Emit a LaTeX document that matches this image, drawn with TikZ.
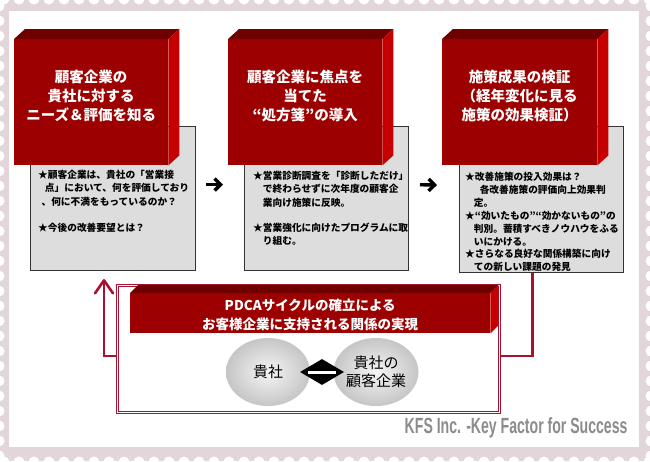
\documentclass[tikz,border=0pt]{standalone}
\usepackage{fontspec}
\newfontfamily\jp{Noto Sans CJK JP}
\newfontfamily\kfs[FakeStretch=0.64]{Liberation Sans}
\usetikzlibrary{arrows.meta, shapes.geometric, calc}

\definecolor{stepred}{RGB}{156,0,0}
\definecolor{steptop}{RGB}{110,0,0}
\definecolor{stepside}{RGB}{198,0,0}
\definecolor{memogray}{RGB}{221,221,221}
\definecolor{cyclered}{RGB}{168,18,48}
\definecolor{stamp}{RGB}{226,214,218}

\begin{document}
\begin{tikzpicture}[x=1pt, y=-1pt, font=\jp]%

    \tikzstyle{face} = [ rectangle, fill = stepred, anchor = north west, inner sep = 0pt, minimum width = 154pt, minimum height = 126pt]
    \tikzstyle{lid} = [ fill = steptop]
    \tikzstyle{flank} = [ fill = stepside]
    \tikzstyle{title} = [ text = white, align = center, font = \jp\bfseries\fontsize{14.5}{19}\selectfont]
    \tikzstyle{memo} = [ rectangle, draw = black!80, line width = 1pt, fill = memogray, anchor = north west, inner sep = 0pt, minimum width = 164pt, minimum height = 144pt]
    \tikzstyle{memotext} = [ anchor = north west, inner sep = 0pt, align = left, font = \jp\bfseries\fontsize{9.7}{13.4}\selectfont]
    \tikzstyle{flow} = [ draw, line width = 3.4pt, -{Straight Barb[length=6pt, width=12pt]}]
    \tikzstyle{cycleline} = [ draw = cyclered, line width = 2.6pt]
    \tikzstyle{frame} = [ rectangle, anchor = north west, draw = cyclered, double = white, double distance = 1pt, line width = 1.2pt, inner sep = 0pt, minimum width = 382pt, minimum height = 127pt]
    \tikzstyle{disc} = [ ellipse, inner sep = 0pt, minimum width = 84pt, minimum height = 68pt, inner color = gray!8, outer color = gray!45, align = center, font = \jp\fontsize{15}{18}\selectfont]
    %
    \useasboundingbox (0,0) rectangle (650,461);

    %% Stamp border
    \fill[stamp] (0,0) rectangle (650,461);
    \foreach \x in {4,19,...,650} {
        \fill[white] (\x,-1) circle (5.5);
        \fill[white] (\x,462) circle (5.5);
    }
    \foreach \y in {6,21,...,461} {
        \fill[white] (-1,\y) circle (5.5);
        \fill[white] (651,\y) circle (5.5);
    }
    \fill[white] (9,11) rectangle (639,447);

    %% Notes behind the steps
    \node [memo, minimum width = 165pt] (memo1) at (30,126) {};
    \node [memo] (memo2) at (244,126) {};
    \node [memo, minimum height = 146pt] (memo3) at (459,126) {};

    \node [memotext] (m1) at ([shift={(8,44)}]memo1.north west) {★顧客企業は、貴社の「営業接\\
        \hspace*{0.7em}点」において、何を評価しており\\
        \hspace*{0.35em}、何に不満をもっているのか？\\[13pt]
        ★今後の改善要望とは？};
    \node [memotext] (m2) at ([shift={(9,45)}]memo2.north west) {★営業診断調査を「診断しただけ」\\
        \hspace*{1em}で終わらせずに次年度の顧客企\\
        \hspace*{1em}業向け施策に反映。\\[11.5pt]
        ★営業強化に向けたプログラムに取\\
        \hspace*{1em}り組む。};
    \node [memotext, font = \jp\bfseries\fontsize{9.7}{12.9}\selectfont] (m3) at ([shift={(6,46)}]memo3.north west) {★改善施策の投入効果は？\\
        \hspace*{1.5em}各改善施策の評価向上効果判\\
        \hspace*{0.9em}定。\\
        ★“効いたもの”“効かないもの”の\\
        \hspace*{0.9em}判別。蓄積すべきノウハウをふる\\
        \hspace*{0.9em}いにかける。\\
        ★さらなる良好な関係構築に向け\\
        \hspace*{0.9em}ての新しい課題の発見};

    %% Steps
    \node [face] (f1) at (14,39) {};
    \node [face] (f2) at (228,39) {};
    \node [face, minimum width = 155pt] (f3) at (442,39) {};

    \fill[lid] (f1.north west) -- ++(11,-10) -- ([shift={(11,-10)}]f1.north east) -- (f1.north east) -- cycle;
    \fill[flank] (f1.north east) -- ++(11,-10) -- ([shift={(11,-10)}]f1.south east) -- (f1.south east) -- cycle;
    \fill[lid] (f2.north west) -- ++(11,-10) -- ([shift={(11,-10)}]f2.north east) -- (f2.north east) -- cycle;
    \fill[flank] (f2.north east) -- ++(11,-10) -- ([shift={(11,-10)}]f2.south east) -- (f2.south east) -- cycle;
    \fill[lid] (f3.north west) -- ++(11,-10) -- ([shift={(11,-10)}]f3.north east) -- (f3.north east) -- cycle;
    \fill[flank] (f3.north east) -- ++(11,-10) -- ([shift={(11,-10)}]f3.south east) -- (f3.south east) -- cycle;

    \node [title] (t1) at ([yshift=6pt]f1.center) {顧客企業の\\貴社に対する\\ニーズ＆評価を知る};
    \node [title] (t2) at ([yshift=6pt]f2.center) {顧客企業に焦点を\\当てた\\“処方箋”の導入};
    \node [title] (t3) at ([yshift=6pt]f3.center) {施策成果の検証\\（経年変化に見る\\施策の効果検証）};

    \draw[flow, shorten < = 10pt, shorten > = 21pt] ([yshift=14pt]memo1.east) -- ([yshift=14pt]memo2.west);
    \draw[flow, shorten < = 11pt, shorten > = 22pt] ([yshift=14pt]memo2.east) -- ([yshift=14pt]memo3.west);

    %% PDCA cycle
    \node [frame] (pdca) at (117,285) {};
    \coordinate (back) at (104,279);
    \draw[cycleline, -{Straight Barb[length=13pt, width=18pt, round]}] ([yshift=-7pt]pdca.west) -| (back);
    \draw[cycleline] ([xshift=-9pt]memo3.south) |- ([yshift=-7pt]pdca.east);

    \node [face, minimum width = 360pt, minimum height = 40pt] (band) at (130,293) {};
    \fill[lid] (band.north west) -- ++(8,-8) -- ([shift={(8,-8)}]band.north east) -- (band.north east) -- cycle;
    \fill[flank] (band.north east) -- ++(8,-8) -- ([shift={(8,-8)}]band.south east) -- (band.south east) -- cycle;
    \node [title, font = \jp\bfseries\fontsize{13.5}{19}\selectfont] (slogan) at ([yshift=-2pt]band.center) {PDCAサイクルの確立による\\お客様企業に支持される関係の実現};

    \node [disc] (self) at (268,372) {貴社};
    \node [disc] (client) at (376,372) {貴社の\\顧客企業};
    \node [diamond, fill = black, inner sep = 0pt, minimum width = 44pt, minimum height = 26pt] (link) at ($(self)!0.5!(client)$) {};
    \draw[white, line width = 3pt] ([xshift=8pt]link.west) -- ([xshift=-8pt]link.east);

    \node [anchor = east, text = black!45, font = \kfs\bfseries\fontsize{22}{22}\selectfont] (motto) at (631,428) {KFS Inc. -Key Factor for Success};
\end{tikzpicture}
\end{document}
